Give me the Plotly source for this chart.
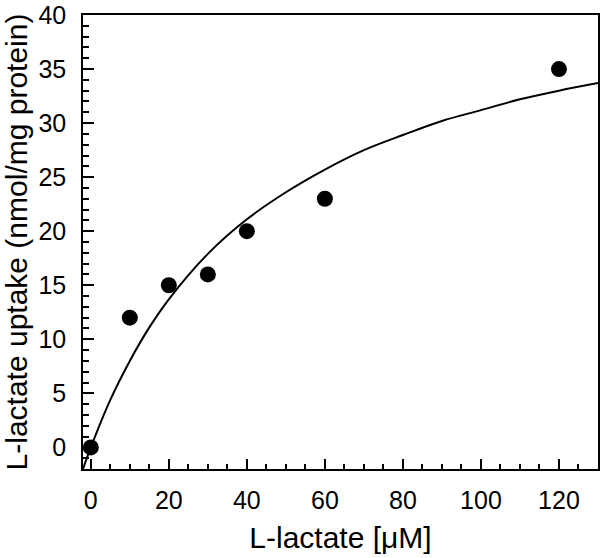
import plotly.graph_objects as go

# measured uptake
conc = [0, 10, 20, 30, 40, 60, 120]
uptake = [0, 12, 15, 16, 20, 23, 35]

# fitted curve
fit_x = [-2, 0, 5, 10, 15, 20, 30, 40, 50, 60, 70, 80, 90, 100, 110, 120, 130]
fit_y = [-2.0, 0, 4.4, 8.0, 11.1, 13.7, 17.9, 21.1, 23.6, 25.7, 27.5, 28.9, 30.2, 31.2, 32.2, 33.0, 33.7]

fig = go.Figure()
fig.add_trace(go.Scatter(x=fit_x, y=fit_y, mode='lines', line=dict(color='black', width=2, shape='spline'),
                         showlegend=False))
fig.add_trace(go.Scatter(x=conc, y=uptake, mode='markers', marker=dict(color='black', size=16),
                         showlegend=False, cliponaxis=False))

font = dict(family='Liberation Sans, Arial, sans-serif', size=25, color='black')
fig.update_layout(width=600, height=558, margin=dict(l=83, r=2, t=15, b=89),
                  plot_bgcolor='white', paper_bgcolor='white', font=font)
fig.update_xaxes(range=[-2, 130], tickvals=[0, 20, 40, 60, 80, 100, 120], ticks='inside', ticklen=10,
                 tickwidth=1.5, tickcolor='black', minor=dict(dtick=5, ticks='inside', ticklen=5, tickwidth=1.5, tickcolor='black'),
                 showline=True, linecolor='black', linewidth=1.5, mirror=True, showgrid=False, zeroline=False,
                 automargin=False, ticklabelstandoff=8,
                 title=dict(text='L-lactate [μM]', standoff=14, font=dict(size=30)))
fig.update_yaxes(range=[-2, 40], tickvals=[0, 5, 10, 15, 20, 25, 30, 35, 40], ticks='inside', ticklen=11,
                 tickwidth=1.5, tickcolor='black', minor=dict(dtick=1, ticks='inside', ticklen=6, tickwidth=1.5, tickcolor='black'),
                 showline=True, linecolor='black', linewidth=1.5, mirror=True, showgrid=False, zeroline=False,
                 automargin=False, ticklabelstandoff=10,
                 title=dict(text='L-lactate uptake (nmol/mg protein)', standoff=12, font=dict(size=30)))
fig.write_html("out.html", config={'displayModeBar': False},
               post_script="document.body.style.margin='0';")
